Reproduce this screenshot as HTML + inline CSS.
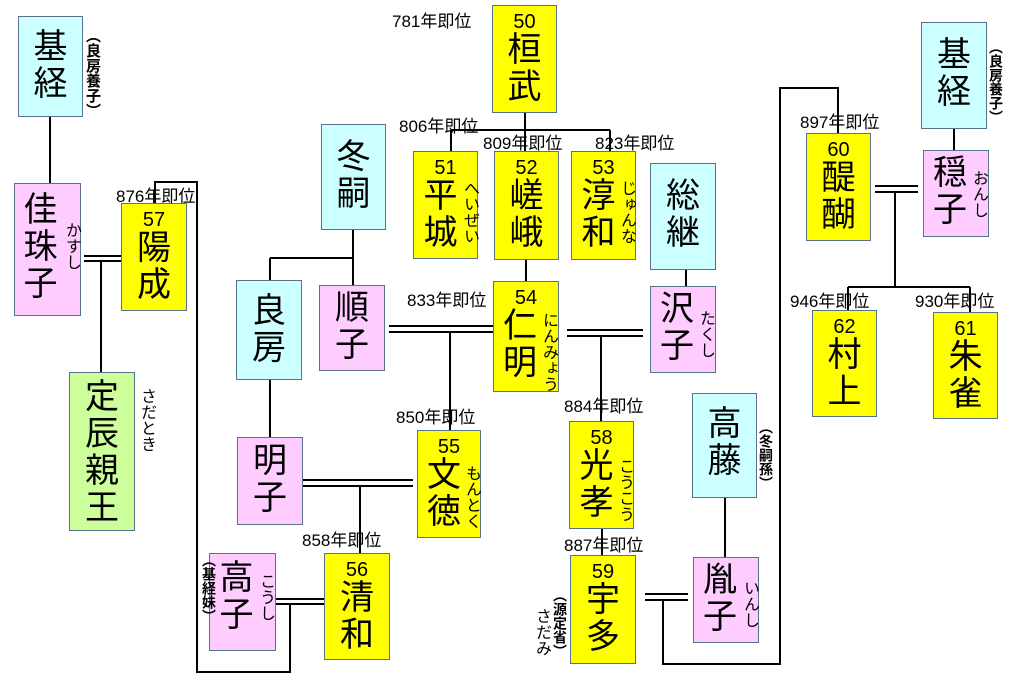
<!DOCTYPE html>
<html><head><meta charset="utf-8"><style>
body{margin:0;width:1024px;height:684px;background:#fff;position:relative;overflow:hidden;font-family:"Liberation Sans","Noto Sans CJK JP",sans-serif;color:#000}
.b{position:absolute;box-sizing:border-box;border:1px solid #59708f;text-align:center}
.y{background:#ffff00}.c{background:#ccffff}.p{background:#ffccff}.g{background:#ccff99}
.n{font-size:20px;line-height:20px;padding-top:6px}
.k{font-size:34px;line-height:37px}
.v{position:absolute;writing-mode:vertical-rl;font-size:16px;line-height:16px}
.a{position:absolute;writing-mode:vertical-rl;font-size:15px;line-height:15px;font-weight:bold}
.t{position:absolute;font-size:17px;line-height:17px;white-space:nowrap}
svg{position:absolute;left:0;top:0}
</style></head><body>
<svg width="1024" height="684" stroke="#000" stroke-width="2" fill="none">
<path d="M50 117V183"/>
<path d="M84 256H121M84 261H121M101 261V372"/>
<path d="M155 203V182H197V672H290V604"/>
<path d="M276 599H324M276 604H324"/>
<path d="M303 480H413M303 486H413M360 486V553"/>
<path d="M353 230V258M270 258H353M270 258V280M353 258V285M270 380V437"/>
<path d="M389 326H493M389 332H493M450 332V430"/>
<path d="M525 113V130M451 130H610M451 130V151M525 130V151M610 130V151"/>
<path d="M526 260V281M686 270V286"/>
<path d="M567 330H643M567 336H643M601 336V421"/>
<path d="M602 529V555M725 498V557"/>
<path d="M645 594H688M645 600H688M663 600V664H780V88H838V133"/>
<path d="M875 186H918M875 192H918M895 192V287M848 287H970M848 287V310M970 287V312"/>
<path d="M954 129V150"/>
</svg>

<div class="b c" style="left:18px;top:16px;width:65px;height:101px"><div class="k" style="padding-top:12px">基<br>経</div></div>
<div class="a" style="left:85px;top:28px">（良房養子）</div>
<div class="b p" style="left:14px;top:183px;width:67px;height:133px"><div class="k" style="padding-top:8px;padding-right:14px">佳<br>珠<br>子</div></div>
<div class="v" style="left:63px;top:222px">かすし</div>
<div class="t" style="left:116px;top:188px">876年即位</div>
<div class="b y" style="left:121px;top:203px;width:66px;height:108px"><div class="n">57</div><div class="k">陽<br>成</div></div>
<div class="b g" style="left:69px;top:372px;width:66px;height:159px"><div class="k" style="padding-top:6px">定<br>辰<br>親<br>王</div></div>
<div class="v" style="left:138px;top:388px">さだとき</div>

<div class="b c" style="left:321px;top:124px;width:65px;height:106px"><div class="k" style="padding-top:14px">冬<br>嗣</div></div>
<div class="b c" style="left:236px;top:280px;width:66px;height:100px"><div class="k" style="padding-top:12px">良<br>房</div></div>
<div class="b p" style="left:319px;top:285px;width:66px;height:86px"><div class="k" style="padding-top:4px">順<br>子</div></div>
<div class="b p" style="left:237px;top:437px;width:66px;height:88px"><div class="k" style="padding-top:5px">明<br>子</div></div>
<div class="b p" style="left:209px;top:553px;width:67px;height:98px"><div class="k" style="padding-top:6px;padding-right:12px">高<br>子</div></div>
<div class="v" style="left:257px;top:573px">こうし</div>
<div class="a" style="left:202px;top:553px;font-size:14px;line-height:14px">（基経妹）</div>

<div class="t" style="left:392px;top:13px">781年即位</div>
<div class="b y" style="left:492px;top:5px;width:65px;height:108px"><div class="n">50</div><div class="k">桓<br>武</div></div>
<div class="t" style="left:399px;top:118px">806年即位</div>
<div class="t" style="left:483px;top:135px">809年即位</div>
<div class="t" style="left:595px;top:135px">823年即位</div>
<div class="b y" style="left:413px;top:151px;width:65px;height:108px"><div class="n">51</div><div class="k" style="padding-right:10px">平<br>城</div></div>
<div class="v" style="left:461px;top:180px">へいぜい</div>
<div class="b y" style="left:494px;top:151px;width:65px;height:109px"><div class="n">52</div><div class="k">嵯<br>峨</div></div>
<div class="b y" style="left:571px;top:151px;width:65px;height:109px"><div class="n">53</div><div class="k" style="padding-right:10px">淳<br>和</div></div>
<div class="v" style="left:618px;top:180px">じゅんな</div>
<div class="b c" style="left:650px;top:163px;width:66px;height:107px"><div class="k" style="padding-top:14px">総<br>継</div></div>
<div class="t" style="left:407px;top:292px">833年即位</div>
<div class="b y" style="left:493px;top:281px;width:66px;height:111px"><div class="n">54</div><div class="k" style="padding-right:12px">仁<br>明</div></div>
<div class="v" style="left:540px;top:312px">にんみょう</div>
<div class="b p" style="left:650px;top:286px;width:66px;height:87px"><div class="k" style="padding-top:4px;padding-right:12px">沢<br>子</div></div>
<div class="v" style="left:697px;top:310px">たくし</div>

<div class="t" style="left:396px;top:409px">850年即位</div>
<div class="b y" style="left:417px;top:430px;width:64px;height:108px"><div class="n">55</div><div class="k" style="padding-right:10px">文<br>徳</div></div>
<div class="v" style="left:463px;top:465px">もんとく</div>
<div class="t" style="left:302px;top:532px">858年即位</div>
<div class="b y" style="left:324px;top:553px;width:66px;height:107px"><div class="n">56</div><div class="k">清<br>和</div></div>

<div class="t" style="left:564px;top:398px">884年即位</div>
<div class="b y" style="left:569px;top:421px;width:65px;height:108px"><div class="n">58</div><div class="k" style="padding-right:10px">光<br>孝</div></div>
<div class="v" style="left:616px;top:458px">こうこう</div>
<div class="t" style="left:564px;top:537px">887年即位</div>
<div class="b y" style="left:570px;top:555px;width:66px;height:109px"><div class="n">59</div><div class="k">宇<br>多</div></div>
<div class="a" style="left:553px;top:588px;font-size:14px;line-height:14px">（源定省）</div>
<div class="v" style="left:533px;top:608px">さだみ</div>
<div class="b c" style="left:692px;top:393px;width:65px;height:105px"><div class="k" style="padding-top:12px">高<br>藤</div></div>
<div class="a" style="left:759px;top:420px;font-size:14px;line-height:14px">（冬嗣孫）</div>
<div class="b p" style="left:693px;top:557px;width:66px;height:86px"><div class="k" style="padding-top:4px;padding-right:12px">胤<br>子</div></div>
<div class="v" style="left:741px;top:580px">いんし</div>

<div class="t" style="left:800px;top:114px">897年即位</div>
<div class="b y" style="left:806px;top:133px;width:65px;height:108px"><div class="n">60</div><div class="k">醍<br>醐</div></div>
<div class="b c" style="left:921px;top:22px;width:66px;height:107px"><div class="k" style="padding-top:14px">基<br>経</div></div>
<div class="a" style="left:989px;top:40px;font-size:14px;line-height:14px">（良房養子）</div>
<div class="b p" style="left:923px;top:150px;width:66px;height:87px"><div class="k" style="padding-top:4px;padding-right:12px">穏<br>子</div></div>
<div class="v" style="left:970px;top:170px">おんし</div>
<div class="t" style="left:790px;top:293px">946年即位</div>
<div class="t" style="left:915px;top:293px">930年即位</div>
<div class="b y" style="left:812px;top:310px;width:65px;height:107px"><div class="n">62</div><div class="k">村<br>上</div></div>
<div class="b y" style="left:933px;top:312px;width:65px;height:107px"><div class="n">61</div><div class="k">朱<br>雀</div></div>
</body></html>
